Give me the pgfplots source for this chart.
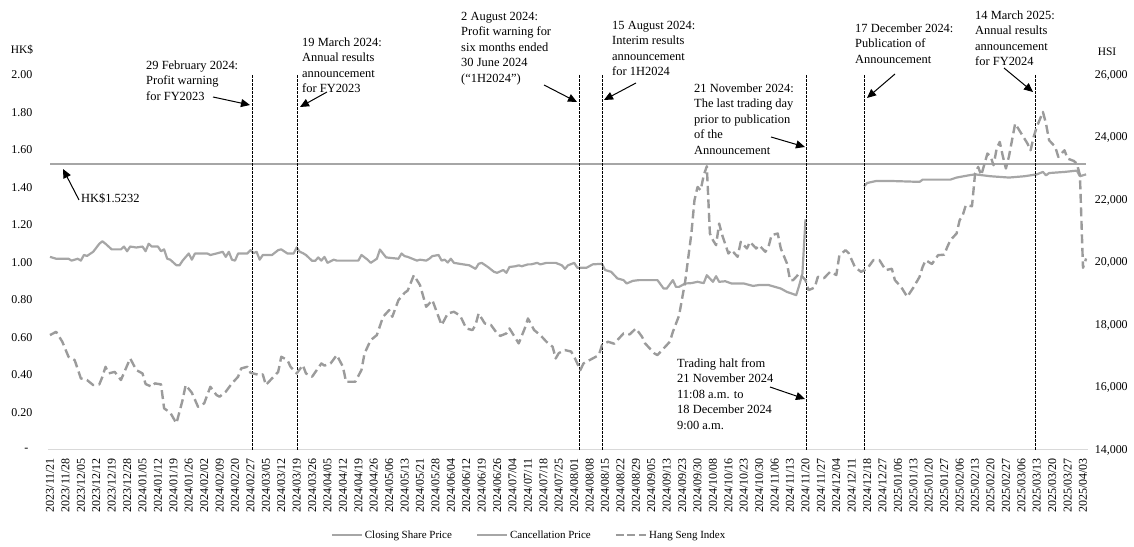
\documentclass[border=0pt]{standalone}
\usepackage{fontspec}
\setmainfont{Liberation Serif}
\usepackage{pgfplots}
\usepackage{pgfplotstable}
\pgfplotsset{compat=1.18}
\usetikzlibrary{arrows.meta}
\definecolor{lg}{RGB}{166,166,166}
\definecolor{dg}{RGB}{155,155,155}
\definecolor{axc}{RGB}{217,217,217}

\pgfplotstableread{
x y
0 1.03
2 1.02
6 1.02
7 1.01
9 1.02
10 1.01
11 1.04
12 1.035
14 1.057
16 1.10
17 1.113
18 1.10
20 1.07
23 1.07
24 1.085
25 1.06
26 1.085
28 1.08
30 1.085
31 1.06
32 1.10
33 1.085
35 1.085
36 1.06
37 1.07
38 1.02
39 1.015
41 0.985
42 0.985
43 1.01
45 1.048
46 1.015
47 1.048
51 1.048
52 1.04
54 1.048
56 1.057
57 1.03
58 1.057
59 1.015
60 1.01
61 1.048
64 1.048
65 1.066
66 1.05
67 1.057
68 1.015
69 1.04
72 1.04
74 1.066
75 1.07
77 1.048
79 1.048
80 1.08
81 1.057
82 1.05
83 1.04
85 1.009
86 1.009
87 1.027
88 1.01
89 1.03
90 0.998
92 1.015
93 1.01
100 1.01
101 1.04
103 1.015
104 0.998
106 1.02
107 1.069
109 1.027
113 1.02
114 1.048
115 1.034
116 1.03
119 1.01
120 1.015
122 1.01
123 1.02
124 1.034
126 1.04
127 1.01
128 1.015
129 1.0
130 1.02
131 0.998
134 0.99
136 0.985
138 0.966
139 0.993
140 0.998
142 0.976
144 0.95
145 0.945
147 0.96
148 0.945
149 0.976
151 0.98
152 0.985
153 0.98
155 0.99
156 0.99
158 0.998
159 0.99
161 0.998
164 0.998
166 0.985
167 0.966
168 0.985
170 0.998
171 0.972
174 0.972
176 0.99
179 0.993
180 0.96
182 0.95
184 0.915
186 0.906
187 0.888
189 0.902
191 0.906
197 0.906
199 0.861
200 0.861
202 0.906
203 0.87
204 0.87
206 0.888
208 0.89
210 0.897
212 0.89
213 0.932
215 0.897
216 0.927
217 0.897
219 0.9
221 0.888
225 0.888
228 0.875
230 0.88
233 0.88
237 0.861
239 0.843
242 0.826
243 0.88
244 0.94
245 1.23
250 nan
264 1.406
265 1.424
268 1.435
272 1.435
282 1.43
283 1.442
292 1.442
294 1.453
298 1.465
300 1.47
305 1.46
311 1.453
316 1.46
320 1.47
322 1.483
323 1.465
324 1.477
329 1.483
333 1.49
334 1.46
336 1.47
}\closing

\pgfplotstableread{
x y
0 17677
2 17782
4 17463
6 16983
8 16877
10 16292
12 16238
14 16078
16 16100
17 16344
18 16663
19 16450
21 16500
23 16238
26 16930
28 16557
30 16450
31 16110
33 16024
34 16131
36 16100
37 15333
39 15194
41 14853
43 15598
44 16078
46 15832
48 15385
50 15492
52 16024
54 15758
55 15705
57 15865
59 16131
61 16344
62 16610
64 16663
65 16472
68 16397
69 16420
70 16078
72 16292
74 16500
75 16983
77 16877
78 16663
80 16450
82 16717
83 16450
85 16344
88 16770
89 16700
91 16770
93 17037
95 16663
96 16184
99 16184
101 16557
102 17090
104 17516
106 17677
108 18262
110 18476
111 18262
113 18795
115 19029
116 19100
118 19595
120 19275
122 18582
124 18795
127 17996
129 18370
131 18422
133 18300
135 17890
137 17837
138 18000
139 18370
141 18050
143 18000
145 17730
146 17650
148 17730
149 17890
151 17570
152 17410
154 17900
155 18210
157 17837
159 17677
161 17463
163 17303
164 16930
165 17100
167 17197
169 17150
170 16983
172 16557
173 16770
176 16930
178 17037
179 17357
181 17463
183 17400
184 17516
186 17730
188 17700
190 17890
192 17623
193 17410
196 17090
197 17037
199 17250
201 17463
202 17783
204 18300
206 19400
208 20928
209 21993
210 22418
211 22311
212 22792
213 23080
214 20928
215 20714
216 20554
217 21248
218 20874
220 20288
221 20400
223 20180
224 20661
226 20448
227 20661
229 20448
230 20550
232 20341
233 20500
234 20874
236 20928
237 20448
239 19968
240 19435
241 19435
243 19650
245 19435
246 19115
248 19200
249 19541
251 19500
253 19701
255 19600
256 20234
258 20394
259 20300
261 19861
263 19701
265 19800
267 20074
269 20074
271 19755
273 19800
274 19435
276 19221
278 18901
280 19200
282 19541
283 19861
284 20074
286 19950
288 20234
290 20250
291 20500
292 20714
294 20928
295 21354
296 21514
297 21833
299 21800
300 22846
301 23059
302 22792
304 23486
305 23400
306 23112
307 23645
308 23859
309 23400
310 23006
311 23400
313 24445
315 24125
317 23805
318 23591
319 24018
320 24338
322 24818
323 24445
324 23912
326 23700
327 23378
329 23591
330 23325
332 23250
333 23165
334 22800
335 19828
336 20127
}\hsi

\newcommand{\annfont}{\fontsize{12.5}{15}\selectfont}
\newcommand{\tickfont}{\fontsize{12}{14}\selectfont}
% x, y of first line centre (px from top), lines
\newcommand{\ablock}[3]{%
  \foreach \txt [count=\i from 0] in {#3} {%
    \node[anchor=base west, inner sep=0pt, font=\annfont] at (#1, {547-#2-4.2-\i*15.5}) {\txt};}}
\newcommand{\arr}[4]{\draw[-{Triangle[length=9bp,width=8bp]}, line width=1bp] (#1,{547-#2}) -- (#3,{547-#4});}

\begin{document}
\begin{tikzpicture}[x=1bp,y=1bp]
\path[use as bounding box] (0,0) rectangle (1134,547);
\begin{axis}[
  at={(48.46bp,97bp)}, anchor=south west,
  scale only axis, width=1039.17bp, height=375bp,
  xmin=-0.5, xmax=336.5, ymin=0, ymax=2,
  clip=false,
  axis x line*=bottom, axis y line*=left,
  x axis line style={draw=axc, line width=1bp},
  y axis line style={draw=none},
  major tick length=0pt,
  xtick={0,5,...,335},
  xticklabels={2023/11/21,2023/11/28,2023/12/05,2023/12/12,2023/12/19,2023/12/28,2024/01/05,2024/01/12,2024/01/19,2024/01/26,2024/02/02,2024/02/09,2024/02/20,2024/02/27,2024/03/05,2024/03/12,2024/03/19,2024/03/26,2024/04/05,2024/04/12,2024/04/19,2024/04/26,2024/05/06,2024/05/13,2024/05/21,2024/05/28,2024/06/04,2024/06/12,2024/06/19,2024/06/26,2024/07/04,2024/07/11,2024/07/18,2024/07/25,2024/08/01,2024/08/08,2024/08/15,2024/08/22,2024/08/29,2024/09/05,2024/09/13,2024/09/23,2024/09/30,2024/10/08,2024/10/16,2024/10/23,2024/10/30,2024/11/06,2024/11/13,2024/11/20,2024/11/27,2024/12/04,2024/12/11,2024/12/18,2024/12/27,2025/01/06,2025/01/13,2025/01/20,2025/01/27,2025/02/06,2025/02/13,2025/02/20,2025/02/27,2025/03/06,2025/03/13,2025/03/20,2025/03/27,2025/04/03},
  xticklabel style={rotate=90, anchor=east, inner sep=0pt, font=\tickfont},
  xticklabel shift=8bp,
  ytick={0,0.2,...,2.01},
  yticklabels={{-\hspace*{4bp}},0.20,0.40,0.60,0.80,1.00,1.20,1.40,1.60,1.80,2.00},
  yticklabel style={anchor=east, inner sep=0pt, font=\tickfont},
  yticklabel shift=16bp,
  unbounded coords=jump,
  legend style={at={(0.4624,-0.2267)}, anchor=center, draw=none, fill=none,
    legend columns=3, font=\fontsize{11}{13}\selectfont,
    /tikz/every even column/.append style={column sep=22bp}},
  legend image code/.code={\draw[#1] (0bp,0bp) -- (30bp,0bp);},
]
\addplot[lg, line width=2.2bp, line join=round] table {\closing};
\addlegendentry{Closing Share Price}
\addplot[lg, line width=2.2bp] coordinates {(0,1.5232) (336,1.5232)};
\addlegendentry{Cancellation Price}
\addlegendimage{dg, line width=2.4bp, dash pattern=on 8bp off 3.5bp}
\addlegendentry{Hang Seng Index}
\foreach \v in {65.5,80.1,171.6,179.0,245.3,264.1,319.6} {
  \edef\tmp{\noexpand\addplot[black, line width=0.9bp, dash pattern=on 2.5bp off 1.5bp, forget plot] coordinates {(\v,0) (\v,2)};}
  \tmp
}
\end{axis}
\begin{axis}[
  at={(48.46bp,97bp)}, anchor=south west,
  scale only axis, width=1039.17bp, height=375bp,
  xmin=-0.5, xmax=336.5, ymin=14000, ymax=26000,
  clip=false,
  hide x axis,
  axis y line*=right,
  y axis line style={draw=none},
  major tick length=0pt,
  scaled y ticks=false,
  ytick={14000,16000,...,26000},
  yticklabels={{14,000},{16,000},{18,000},{20,000},{22,000},{24,000},{26,000}},
  yticklabel style={anchor=west, inner sep=0pt, font=\tickfont},
  yticklabel shift=7bp,
]
\addplot[dg, line width=2.4bp, dash pattern=on 9bp off 4.5bp, line join=round] table {\hsi};
\end{axis}

\node[font=\fontsize{11.5}{13}\selectfont] at (22,497) {HK\$};
\node[font=\fontsize{11.5}{13}\selectfont] at (1107,495) {HSI};

\ablock{146}{65}{29 February 2024:,Profit warning,for FY2023}
\arr{213}{97}{250}{105}
\ablock{302}{42}{19 March 2024:,Annual results,announcement,for FY2023}
\arr{327}{92}{300}{107}
\ablock{461}{16}{2 August 2024:,Profit warning for,six months ended,30 June 2024,(“1H2024”)}
\arr{544}{85}{577}{102}
\ablock{612}{25}{15 August 2024:,Interim results,announcement,for 1H2024}
\arr{636}{83}{604}{100}
\ablock{694}{88}{21 November 2024:,The last trading day,prior to publication,of the,Announcement}
\arr{771}{137}{805}{147}
\ablock{855}{28}{17 December 2024:,Publication of,Announcement}
\arr{895}{74}{867}{98}
\ablock{975}{15}{14 March 2025:,Annual results,announcement,for FY2024}
\arr{1004}{68}{1033}{92}
\ablock{81}{198}{HK\$1.5232}
\arr{79}{200}{63}{169}
\ablock{677}{363}{Trading halt from,21 November 2024,11:08 a.m. to,18 December 2024,9:00 a.m.}
\arr{770}{387}{805}{399}
\end{tikzpicture}
\end{document}
